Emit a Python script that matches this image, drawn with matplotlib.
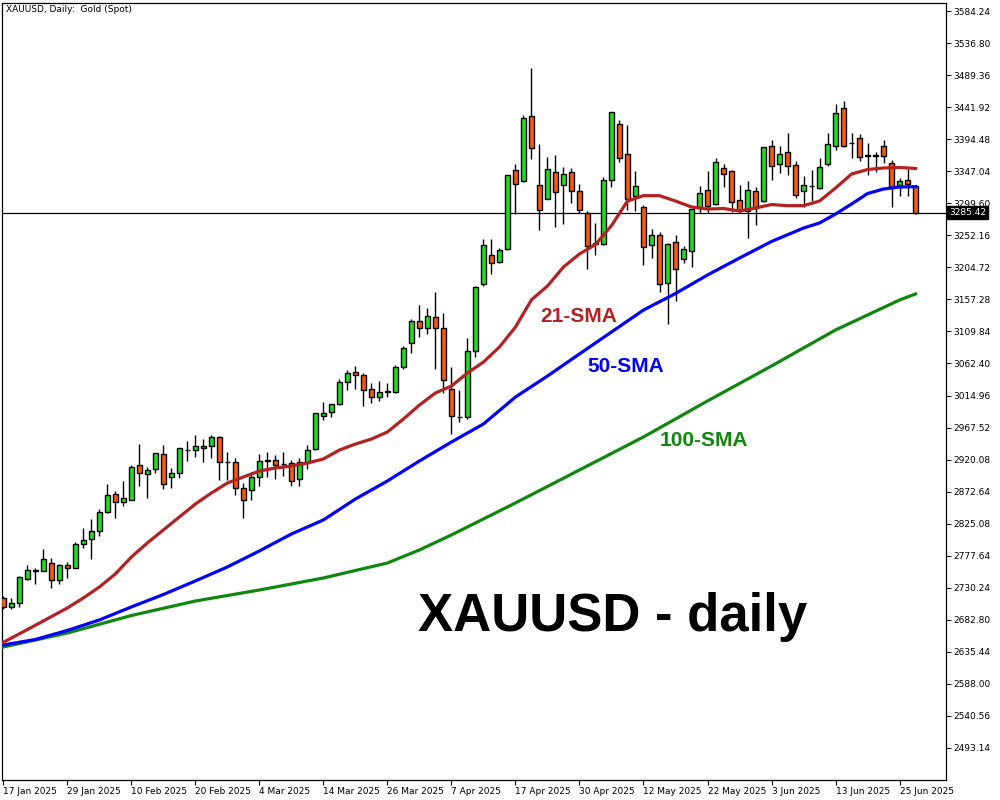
import matplotlib
matplotlib.use('Agg')
import matplotlib.pyplot as plt

# XAUUSD daily candles, 17 Jan 2025 .. 27 Jun 2025 (Good Friday closed)
opens = [2715.2, 2702.3, 2708.2, 2743.7, 2755.6, 2754.7, 2766.6, 2741.4, 2763.6, 2759.2,
         2794.7, 2802.1, 2814.0, 2842.1, 2868.7, 2856.9, 2860.3, 2911.6, 2898.3, 2905.7,
         2927.9, 2893.9, 2899.7, 2934.7, 2933.8, 2939.7, 2939.7, 2953.1, 2916.1, 2916.1,
         2877.6, 2874.6, 2893.9, 2919.1, 2919.1, 2913.1, 2914.6, 2890.9, 2916.1, 2935.3,
         2984.2, 2990.1, 3001.9, 3034.5, 3049.3, 3044.9, 3024.1, 3012.3, 3020.6, 3020.6,
         3056.7, 3092.2, 3124.8, 3114.4, 3130.8, 3114.4, 3024.1, 2982.7, 2982.7, 3080.4,
         3179.6, 3222.5, 3212.2, 3231.4, 3348.4, 3332.1, 3428.3, 3326.2, 3305.4, 3345.4,
         3326.2, 3345.4, 3317.3, 3284.7, 3239.7, 3238.8, 3333.6, 3416.5, 3372.1, 3309.9,
         3293.6, 3237.3, 3252.2, 3181.1, 3241.8, 3216.6, 3228.5, 3292.1, 3318.8, 3298.0,
         3351.4, 3346.9, 3304.0, 3288.1, 3317.3, 3302.5, 3383.9, 3357.3, 3375.0, 3355.8,
         3317.3, 3324.7, 3321.7, 3357.3, 3383.9, 3440.2, 3388.4, 3395.8, 3370.6, 3370.3,
         3383.9, 3358.7, 3326.2, 3333.6, 3324.7]
highs = [2718.1, 2715.2, 2748.2, 2763.6, 2759.6, 2787.7, 2774.0, 2765.1, 2769.0, 2798.6,
         2818.8, 2832.2, 2846.5, 2884.0, 2873.2, 2888.4, 2912.5, 2943.2, 2909.6, 2929.4,
         2941.7, 2907.2, 2936.8, 2947.1, 2956.4, 2950.6, 2956.4, 2955.0, 2930.9, 2922.0,
         2885.0, 2901.3, 2928.0, 2930.9, 2926.4, 2930.9, 2919.1, 2922.0, 2941.3, 2988.6,
         3004.9, 3001.9, 3039.0, 3052.3, 3058.2, 3047.8, 3033.0, 3036.0, 3033.0, 3060.6,
         3087.8, 3127.8, 3148.5, 3144.1, 3167.8, 3136.7, 3056.7, 3022.7, 3099.7, 3176.6,
         3246.2, 3246.2, 3232.9, 3341.0, 3357.3, 3429.8, 3499.4, 3386.9, 3367.6, 3370.6,
         3352.8, 3351.8, 3327.6, 3287.7, 3269.9, 3338.0, 3434.2, 3422.4, 3415.0, 3346.9,
         3296.6, 3261.0, 3256.6, 3240.3, 3252.2, 3235.9, 3290.6, 3324.7, 3346.9, 3366.2,
         3357.3, 3348.4, 3326.2, 3332.5, 3323.7, 3382.4, 3392.8, 3383.9, 3403.2, 3361.7,
         3339.5, 3348.4, 3366.2, 3403.2, 3446.1, 3450.5, 3403.2, 3401.7, 3388.4, 3375.0,
         3392.8, 3363.2, 3336.5, 3349.9, 3326.0]
lows = [2698.9, 2698.3, 2702.3, 2742.3, 2735.9, 2754.7, 2730.2, 2735.5, 2745.3, 2759.2,
        2789.7, 2772.5, 2807.5, 2840.6, 2834.0, 2852.0, 2860.3, 2881.5, 2863.7, 2900.7,
        2877.0, 2878.4, 2892.4, 2918.4, 2924.3, 2916.9, 2921.9, 2889.9, 2889.9, 2867.7,
        2833.1, 2859.8, 2881.5, 2894.8, 2890.9, 2896.3, 2880.5, 2880.5, 2905.7, 2933.8,
        2978.3, 2982.7, 3000.4, 3022.7, 3025.0, 2999.9, 3003.4, 3006.4, 3012.3, 3018.2,
        3053.8, 3077.4, 3101.1, 3105.6, 3053.8, 3018.2, 2957.5, 2975.3, 2979.8, 3071.5,
        3176.6, 3194.4, 3210.7, 3230.1, 3283.2, 3330.6, 3365.5, 3259.5, 3305.4, 3264.9,
        3268.4, 3299.5, 3284.7, 3201.8, 3222.5, 3237.3, 3323.2, 3360.2, 3289.2, 3287.7,
        3207.7, 3218.1, 3167.8, 3120.4, 3154.4, 3210.7, 3204.8, 3284.7, 3284.7, 3296.6,
        3323.2, 3286.2, 3284.7, 3248.1, 3267.4, 3301.0, 3333.6, 3344.0, 3341.0, 3306.9,
        3293.6, 3302.5, 3320.3, 3354.3, 3378.0, 3382.4, 3366.2, 3361.7, 3341.0, 3345.9,
        3359.2, 3294.5, 3310.3, 3309.9, 3283.7]
closes = [2701.8, 2707.3, 2746.3, 2756.2, 2756.0, 2772.5, 2741.4, 2763.6, 2759.2, 2794.7,
          2800.6, 2814.0, 2842.1, 2867.3, 2856.9, 2862.8, 2908.7, 2899.7, 2904.2, 2929.4,
          2883.5, 2899.7, 2936.8, 2934.2, 2939.7, 2936.8, 2953.1, 2916.1, 2916.5, 2877.6,
          2859.8, 2893.9, 2917.6, 2918.6, 2911.6, 2913.5, 2888.0, 2916.1, 2933.8, 2988.6,
          2988.6, 3001.9, 3034.5, 3047.8, 3044.9, 3022.7, 3012.3, 3019.7, 3021.0, 3056.7,
          3084.9, 3124.8, 3114.4, 3132.2, 3114.4, 3037.5, 2984.2, 2983.1, 3080.4, 3175.2,
          3237.3, 3210.7, 3230.1, 3341.0, 3327.6, 3425.4, 3380.9, 3289.2, 3349.9, 3315.8,
          3342.5, 3317.3, 3289.2, 3235.9, 3240.2, 3333.6, 3434.2, 3366.2, 3305.4, 3324.7,
          3234.4, 3252.2, 3179.6, 3238.8, 3201.8, 3231.4, 3290.6, 3314.3, 3295.1, 3360.2,
          3342.5, 3301.0, 3289.2, 3319.2, 3292.1, 3382.4, 3354.3, 3372.1, 3354.3, 3311.4,
          3326.2, 3325.2, 3352.8, 3386.9, 3432.8, 3383.9, 3388.8, 3367.6, 3370.2, 3370.8,
          3369.1, 3324.1, 3332.1, 3327.6, 3285.42]

# moving averages (bar index, value)
sma21_idx = [0, 4, 8, 10, 12, 14, 16, 18, 20, 22, 24, 26, 28, 30, 32, 34, 36, 38, 40, 42,
             44, 46, 48, 50, 52, 54, 56, 58, 60, 62, 64, 66, 68, 70, 72, 74, 76, 78, 80, 82,
             84, 86, 88, 90, 92, 94, 96, 98, 100, 102, 104, 106, 108, 110, 112, 114]
sma21 = [2649.5, 2674.7, 2700.4, 2715.2, 2731.4, 2750.7, 2775.8, 2796.6, 2815.9, 2835.1,
         2854.3, 2870.6, 2885.4, 2894.3, 2903.2, 2907.6, 2910.6, 2915.0, 2921.0, 2934.2,
         2943.1, 2950.5, 2960.9, 2980.2, 3000.8, 3018.7, 3029.0, 3048.3, 3064.5, 3086.8,
         3116.3, 3156.6, 3177.1, 3205.2, 3224.5, 3238.5, 3266.5, 3302.9, 3310.8, 3310.8,
         3302.9, 3294.1, 3291.1, 3291.8, 3288.1, 3292.6, 3297.7, 3296.0, 3296.0, 3302.9,
         3322.2, 3342.9, 3349.6, 3351.8, 3352.6, 3351.1]

sma50_idx = [0, 4, 8, 12, 16, 20, 24, 28, 32, 36, 40, 44, 48, 52, 56, 60, 64, 68, 72, 76,
             80, 84, 88, 92, 96, 100, 102, 104, 106, 108, 110, 112, 114]
sma50 = [2645.6, 2653.7, 2667.1, 2682.6, 2701.9, 2720.3, 2740.4, 2761.1, 2784.8, 2809.9,
         2830.7, 2861.7, 2888.4, 2918.0, 2946.1, 2972.8, 3012.7, 3043.8, 3076.5, 3109.0,
         3141.5, 3166.0, 3193.4, 3218.5, 3243.0, 3262.9, 3270.4, 3283.7, 3298.5, 3314.0,
         3320.7, 3323.7, 3324.1]

sma100_idx = [0, 8, 16, 24, 32, 40, 48, 52, 56, 64, 72, 80, 88, 96, 104, 112, 114]
sma100 = [2642.6, 2663.3, 2689.2, 2710.7, 2727.0, 2744.8, 2767.0, 2786.3, 2808.5, 2855.9,
          2904.7, 2953.6, 3006.9, 3058.7, 3112.0, 3156.4, 3165.3]

date_labels = ['17 Jan 2025', '29 Jan 2025', '10 Feb 2025', '20 Feb 2025', '4 Mar 2025',
               '14 Mar 2025', '26 Mar 2025', '7 Apr 2025', '17 Apr 2025', '30 Apr 2025',
               '12 May 2025', '22 May 2025', '3 Jun 2025', '13 Jun 2025', '25 Jun 2025']
price_ticks = [3584.24, 3536.80, 3489.36, 3441.92, 3394.48, 3347.04, 3299.60, 3252.16,
               3204.72, 3157.28, 3109.84, 3062.40, 3014.96, 2967.52, 2920.08, 2872.64,
               2825.08, 2777.64, 2730.24, 2682.80, 2635.44, 2588.00, 2540.56, 2493.14]

UP = '#1EE01E'
DOWN = '#F85A0A'

fig = plt.figure(figsize=(10, 8), dpi=100)
ax = fig.add_axes([0.002, 0.025, 0.944, 0.97125])

n = len(closes)
idx = list(range(n))
cols = [UP if c >= o else DOWN for o, c in zip(opens, closes)]
bottoms = [min(o, c) for o, c in zip(opens, closes)]
heights = [abs(c - o) for o, c in zip(opens, closes)]

ax.vlines(idx, lows, highs, color='black', lw=1.0, zorder=2)
ax.bar(idx, heights, bottom=bottoms, width=0.64, color=cols,
       edgecolor='black', linewidth=1.0, zorder=3)

ax.plot(sma100_idx, sma100, color='#0F870F', lw=2.3, zorder=4)
ax.plot(sma50_idx, sma50, color='#0000FF', lw=2.3, zorder=4)
ax.plot(sma21_idx, sma21, color='#B22222', lw=2.3, zorder=4)

last = closes[-1]
ax.axhline(last, color='black', lw=0.9, zorder=1)

ax.set_xlim(-0.16, 117.8)
ax.set_ylim(2445.7, 3596.1)

ax.yaxis.tick_right()
ax.set_yticks(price_ticks)
ax.set_yticklabels(['%.2f' % p for p in price_ticks])
ax.set_xticks(range(0, 8 * len(date_labels), 8))
ax.set_xticklabels(date_labels)
for t in ax.get_xticklabels():
    t.set_horizontalalignment('left')
ax.tick_params(axis='both', labelsize=6.5, length=3.5, width=0.8, pad=1.5, colors='black')
for s in ax.spines.values():
    s.set_linewidth(0.9)

ax.text(1.0035, last, '%.2f' % last, transform=ax.get_yaxis_transform(), color='white',
        fontsize=6.5, va='center', ha='left',
        bbox=dict(facecolor='black', edgecolor='black', pad=1.4))

fig.text(0.006, 1 - 9 / 800, 'XAUUSD, Daily:  Gold (Spot)', fontsize=6.5, va='center')

bold = dict(family='Liberation Sans', fontweight='bold', fontsize=15, va='center', ha='left')
fig.text(0.540, 1 - 316 / 800, '21-SMA', color='#B22222', **bold)
fig.text(0.587, 1 - 366 / 800, '50-SMA', color='#0000FF', **bold)
fig.text(0.660, 1 - 441 / 800, '100-SMA', color='#0F870F', **bold)
fig.text(0.418, 1 - 617 / 800, 'XAUUSD - daily', color='black', family='Liberation Sans',
         fontweight='bold', fontsize=38, va='center', ha='left')

fig.savefig('out.png', dpi=100)
